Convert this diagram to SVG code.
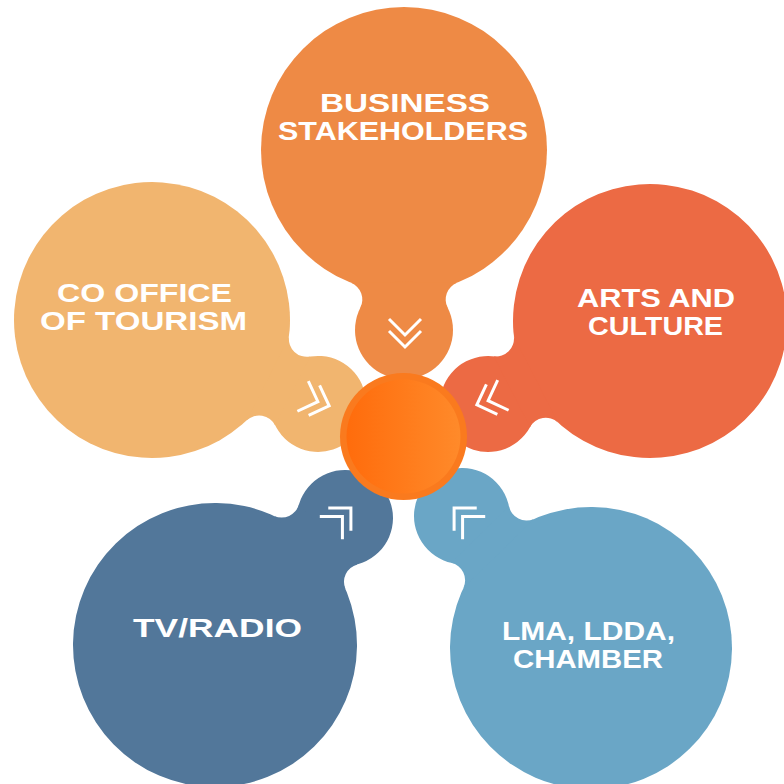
<svg xmlns="http://www.w3.org/2000/svg" xmlns:xlink="http://www.w3.org/1999/xlink" width="784" height="784" viewBox="0 0 784 784">
<style>
.lbl{font-family:"Liberation Sans",Arial,sans-serif;font-weight:bold;font-size:25px;fill:#ffffff;text-anchor:middle}
.chev polyline{fill:none;stroke:#ffffff;stroke-width:3;stroke-linecap:butt;stroke-linejoin:miter}
</style>
<defs>
<g id="chev" class="chev">
<polyline points="-2,-16 14,0 -2,16"/>
<polyline points="-14,-16 2,0 -14,16"/>
</g>
<linearGradient id="cg" x1="0" y1="0" x2="1" y2="0">
<stop offset="0" stop-color="#FF6C0C"/>
<stop offset="1" stop-color="#FF8A2A"/>
</linearGradient>
</defs>
<rect width="784" height="784" fill="#ffffff"/>

<g id="business">
<g transform="translate(404,150)" fill="#EE8A45">
<circle cx="0" cy="0" r="143"/>
<circle cx="0" cy="180" r="49"/>
<path d="M-53,132.81 A18,18 0 0 1 -43.64,157.72 L43.64,157.72 A18,18 0 0 1 53,132.81 Z"/>
</g>
<text class="lbl" x="405" y="112" textLength="170" lengthAdjust="spacingAndGlyphs">BUSINESS</text>
<text class="lbl" x="403" y="140" textLength="250" lengthAdjust="spacingAndGlyphs">STAKEHOLDERS</text>
<use xlink:href="#chev" transform="translate(405,333) rotate(90)"/>
</g>

<g id="tourism">
<g transform="translate(152,320) rotate(-63.2)" fill="#F1B56F">
<circle cx="0" cy="0" r="138"/>
<circle cx="0" cy="186.04" r="48"/>
<path d="M-46.88,129.79 A18,18 0 0 1 -38.55,157.44 L38.55,157.44 A18,18 0 0 1 46.88,129.79 Z"/>
</g>
<text class="lbl" x="144.5" y="302" textLength="175" lengthAdjust="spacingAndGlyphs">CO OFFICE</text>
<text class="lbl" x="143.5" y="330" textLength="207" lengthAdjust="spacingAndGlyphs">OF TOURISM</text>
<use xlink:href="#chev" transform="translate(316,401) rotate(20)"/>
</g>

<g id="arts">
<g transform="translate(650,321) rotate(62.87)" fill="#EC6A44">
<circle cx="0" cy="0" r="137"/>
<circle cx="0" cy="182" r="48"/>
<path d="M-48.27,128.21 A18,18 0 0 1 -39.72,155.13 L39.72,155.13 A18,18 0 0 1 48.27,128.21 Z"/>
</g>
<text class="lbl" x="656" y="307" textLength="158" lengthAdjust="spacingAndGlyphs">ARTS AND</text>
<text class="lbl" x="655.5" y="335" textLength="135" lengthAdjust="spacingAndGlyphs">CULTURE</text>
<use xlink:href="#chev" transform="translate(490,400) rotate(160)"/>
</g>

<g id="tvradio">
<g transform="translate(215,645) rotate(-134.33)" fill="#52779A">
<circle cx="0" cy="0" r="142"/>
<circle cx="0" cy="181.74" r="48"/>
<path d="M-51.01,132.52 A18,18 0 0 1 -41.8,158.16 L41.8,158.16 A18,18 0 0 1 51.01,132.52 Z"/>
</g>
<text class="lbl" x="217.5" y="637" textLength="169" lengthAdjust="spacingAndGlyphs">TV/RADIO</text>
<use xlink:href="#chev" transform="translate(341,518) rotate(-45)"/>
</g>

<g id="lma">
<g transform="translate(591,648) rotate(135.66)" fill="#6AA6C6">
<circle cx="0" cy="0" r="141"/>
<circle cx="0" cy="184.57" r="48"/>
<path d="M-49.29,132.1 A18,18 0 0 1 -40.42,158.68 L40.42,158.68 A18,18 0 0 1 49.29,132.1 Z"/>
</g>
<text class="lbl" x="588.5" y="640" textLength="173" lengthAdjust="spacingAndGlyphs">LMA, LDDA,</text>
<text class="lbl" x="588" y="668" textLength="150" lengthAdjust="spacingAndGlyphs">CHAMBER</text>
<use xlink:href="#chev" transform="translate(464,518) rotate(-135)"/>
</g>

<g id="center">
<circle cx="403.5" cy="436.5" r="63.5" fill="#FA7A1E"/>
<circle cx="403.5" cy="436.5" r="57" fill="url(#cg)"/>
</g>
</svg>
